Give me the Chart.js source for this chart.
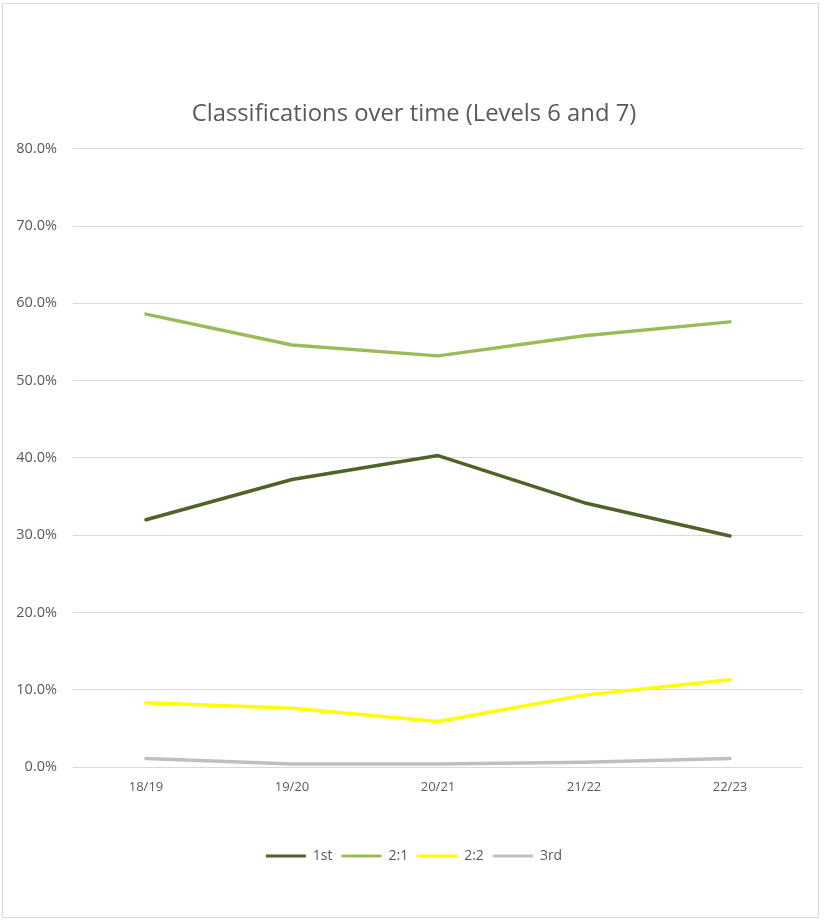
<!DOCTYPE html>
<html>
<head>
<meta charset="utf-8">
<script src="https://cdn.jsdelivr.net/npm/chart.js@4/dist/chart.umd.min.js"></script>
<style>
  html, body { margin: 0; padding: 0; background: #fff; }
  #wrap { position: relative; width: 824px; height: 921px; }
  #frame { position: absolute; left: 2px; top: 3px; width: 817px; height: 915px; border: 1px solid #d9d9d9; box-sizing: border-box; }
  canvas { position: absolute; left: 0; top: 0; }
</style>
</head>
<body>
<div id="wrap">
  <div id="frame"></div>
  <canvas id="c" width="824" height="921"></canvas>
</div>
<script>
const titleText = "Classifications over time (Levels 6 and 7)";
const categories = ["18/19", "19/20", "20/21", "21/22", "22/23"];
const seriesNames = ["1st", "2:1", "2:2", "3rd"];
const first = [32.0, 37.2, 40.3, 34.2, 29.9];
const upperSecond = [58.6, 54.6, 53.2, 55.8, 57.6];
const lowerSecond = [8.3, 7.6, 5.9, 9.3, 11.3];
const third = [1.1, 0.4, 0.4, 0.6, 1.1];
const seriesColors = ["#4F6228", "#9BBB59", "#FFFF00", "#BFBFBF"];
const yTicks = [0, 10, 20, 30, 40, 50, 60, 70, 80];

const allValues = [first, upperSecond, lowerSecond, third];
const FONT = "'Open Sans', sans-serif";
const TEXT = "#595959";

const datasets = allValues.map((vals, i) => ({
  label: seriesNames[i],
  data: vals,
  yAxisID: 'y',
  borderColor: seriesColors[i],
  backgroundColor: seriesColors[i],
  borderWidth: 3.5,
  borderCapStyle: 'round',
  borderJoinStyle: 'round',
  pointRadius: 0,
  tension: 0,
  fill: false
}));

new Chart(document.getElementById('c'), {
  type: 'line',
  data: { labels: categories, datasets },
  options: {
    responsive: false,
    animation: false,
    layout: { padding: { left: 8, right: 4, top: 0, bottom: 48 } },
    plugins: {
      title: {
        display: true,
        text: titleText,
        color: TEXT,
        font: { family: FONT, size: 23.8, weight: 'normal' },
        padding: { top: 99.6, bottom: 20.6 }
      },
      legend: {
        display: true,
        position: 'bottom',
        labels: {
          color: TEXT,
          font: { family: FONT, size: 14 },
          boxWidth: 40,
          boxHeight: 3,
          padding: 9,
          generateLabels: (chart) => chart.data.datasets.map((ds, i) => ({
            text: ds.label,
            fillStyle: ds.borderColor,
            strokeStyle: ds.borderColor,
            lineWidth: 0,
            hidden: false,
            datasetIndex: i,
            fontColor: TEXT
          }))
        }
      },
      tooltip: { enabled: false }
    },
    scales: {
      x: {
        offset: true,
        grid: { display: false, drawTicks: false },
        border: { display: false },
        ticks: { color: TEXT, font: { family: FONT, size: 13 }, padding: 12 },
        afterFit: (s) => { s.height = 73; }
      },
      y: {
        position: 'left',
        min: yTicks[0],
        max: yTicks[yTicks.length - 1],
        afterBuildTicks: (s) => { s.ticks = yTicks.map(v => ({ value: v })); },
        grid: { color: '#d9d9d9', lineWidth: 1, drawTicks: false },
        border: { display: false },
        ticks: {
          color: TEXT,
          font: { family: FONT, size: 14.5 },
          padding: 16,
          callback: (v) => Number(v).toFixed(1) + '%'
        },
        afterFit: (s) => { s.width = 65; }
      },
      yRightSpace: {
        position: 'right',
        display: true,
        grid: { display: false, drawTicks: false },
        border: { display: false },
        ticks: { display: false },
        afterFit: (s) => { s.width = 17; }
      }
    }
  }
});
</script>
</body>
</html>
